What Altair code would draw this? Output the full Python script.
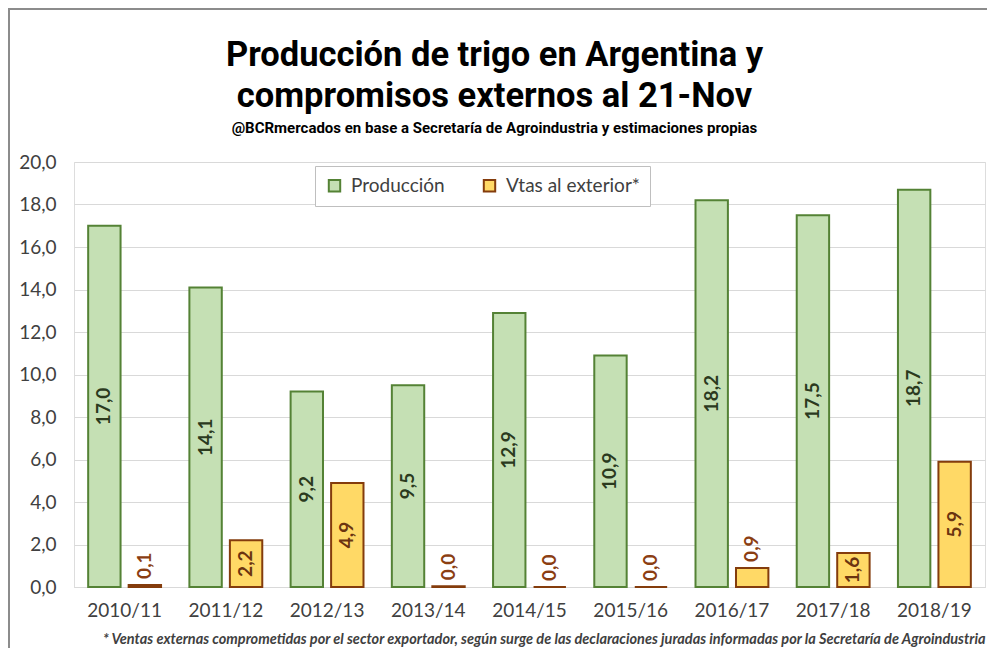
import altair as alt
import pandas as pd

# ---- data ----
seasons = ["2010/11", "2011/12", "2012/13", "2013/14", "2014/15",
           "2015/16", "2016/17", "2017/18", "2018/19"]
produccion = [17.0, 14.1, 9.2, 9.5, 12.9, 10.9, 18.2, 17.5, 18.7]
ventas = [0.1, 2.2, 4.9, 0.04, 0.0, 0.0, 0.9, 1.6, 5.9]
series = ["Producción", "Vtas al exterior*"]
fill_colors = ["#C5E0B4", "#FFD966"]
stroke_colors = ["#548235", "#843C0C"]
y_ticks = [0, 2, 4, 6, 8, 10, 12, 14, 16, 18, 20]

title_lines = ["Producción de trigo en Argentina y", "compromisos externos al 21-Nov"]
subtitle = "@BCRmercados en base a Secretaría de Agroindustria y estimaciones propias"
footnote = ("* Ventas externas comprometidas por el sector exportador, según surge de las "
            "declaraciones juradas informadas por la Secretaría de Agroindustria")

rows = []
for i, s in enumerate(seasons):
    rows.append({"campaña": s, "serie": series[0], "valor": produccion[i]})
    rows.append({"campaña": s, "serie": series[1], "valor": ventas[i]})
df = pd.DataFrame(rows)

LBL = "replace(format(datum.valor, '.1f'), '.', ',')"

x_enc = alt.X(
    "campaña:N", sort=seasons,
    scale=alt.Scale(paddingInner=0.28, paddingOuter=0.14),
    axis=alt.Axis(
        title=footnote, titleAnchor="end", titleFont="Lato", titleFontSize=14.5,
        titleFontStyle="italic", titleFontWeight="bold", titleColor="#404040",
        titlePadding=12,
        labelAngle=0, labelFont="Lato", labelFontSize=19, labelColor="#404040",
        labelPadding=14, ticks=False, domainColor="#D9D9D9", domainWidth=1,
    ),
)
xoff = alt.XOffset("serie:N", sort=series,
                    scale=alt.Scale(paddingInner=0.2, paddingOuter=0))

y_scale = alt.Scale(domain=[0, 20])

legend_cfg = dict(orient="none", legendX=241, legendY=4,
                  direction="horizontal", title=None,
                  fillColor="white", strokeColor="#BFBFBF",
                  padding=10, labelFont="Lato", labelFontSize=19,
                  labelColor="#404040", symbolType="square",
                  symbolSize=130, symbolStrokeWidth=2,
                  columnPadding=34, labelOffset=7)

base = alt.Chart(df)

bars = base.mark_bar(strokeWidth=2).encode(
    x=x_enc,
    xOffset=xoff,
    y=alt.Y("valor:Q", scale=y_scale,
            axis=alt.Axis(title=None, values=y_ticks,
                          labelExpr="replace(format(datum.value, '.1f'), '.', ',')",
                          labelFont="Lato", labelFontSize=19, labelColor="#404040",
                          labelPadding=18, ticks=False, domain=False,
                          gridColor="#D9D9D9", gridWidth=1)),
    fill=alt.Fill("serie:N", sort=series,
                  scale=alt.Scale(domain=series, range=fill_colors),
                  legend=alt.Legend(**legend_cfg)),
    stroke=alt.Stroke("serie:N", sort=series,
                      scale=alt.Scale(domain=series, range=stroke_colors),
                      legend=alt.Legend(**legend_cfg)),
)

green_lbl = base.transform_filter(
    alt.datum.serie == series[0]
).transform_calculate(
    lbl=LBL, mid="datum.valor / 2"
).mark_text(angle=270, align="center", baseline="middle", font="Lato",
            fontSize=19, fontWeight="bold", color="#2B3A1E").encode(
    x=alt.X("campaña:N", sort=seasons), xOffset=xoff,
    y=alt.Y("mid:Q", scale=y_scale), text="lbl:N")

orange_in = base.transform_filter(
    (alt.datum.serie == series[1]) & (alt.datum.valor >= 1.5)
).transform_calculate(
    lbl=LBL, mid="datum.valor / 2"
).mark_text(angle=270, align="center", baseline="middle", font="Lato",
            fontSize=19, fontWeight="bold", color="#6B3410").encode(
    x=alt.X("campaña:N", sort=seasons), xOffset=xoff,
    y=alt.Y("mid:Q", scale=y_scale), text="lbl:N")

orange_out = base.transform_filter(
    (alt.datum.serie == series[1]) & (alt.datum.valor < 1.5)
).transform_calculate(
    lbl=LBL
).mark_text(angle=270, align="left", baseline="middle", dx=6, font="Lato",
            fontSize=19, fontWeight="bold", color="#8B3E12").encode(
    x=alt.X("campaña:N", sort=seasons), xOffset=xoff,
    y=alt.Y("valor:Q", scale=y_scale), text="lbl:N")

# chart frame (decorative border, top and left)
frame_top = alt.Chart().mark_rule(color="#8C8C8C", strokeWidth=2).encode(
    x=alt.value(-66), x2=alt.value(921), y=alt.value(-153), y2=alt.value(-153))
frame_left = alt.Chart().mark_rule(color="#8C8C8C", strokeWidth=2).encode(
    x=alt.value(-65), x2=alt.value(-65), y=alt.value(-153), y2=alt.value(494))

chart = alt.layer(bars, green_lbl, orange_in, orange_out, frame_top, frame_left,
                  data=df).properties(
    width=911, height=425,
    autosize=alt.AutoSizeParams(type="none"),
    padding={"left": 66, "top": 154, "right": 2, "bottom": 61},
    title=alt.TitleParams(
        text=title_lines, subtitle=subtitle, frame="group",
        font="Roboto", fontSize=34.5, fontWeight="bold",
        lineHeight=41, color="#000000",
        subtitleFont="Roboto", subtitleFontSize=15,
        subtitleFontWeight="bold", subtitleColor="#000000", subtitlePadding=7,
        anchor="middle", dx=-35, offset=-129,
    ),
).configure_view(stroke=None).configure(background="white")

chart.save("out.html", embed_options={"renderer": "svg", "actions": False})
